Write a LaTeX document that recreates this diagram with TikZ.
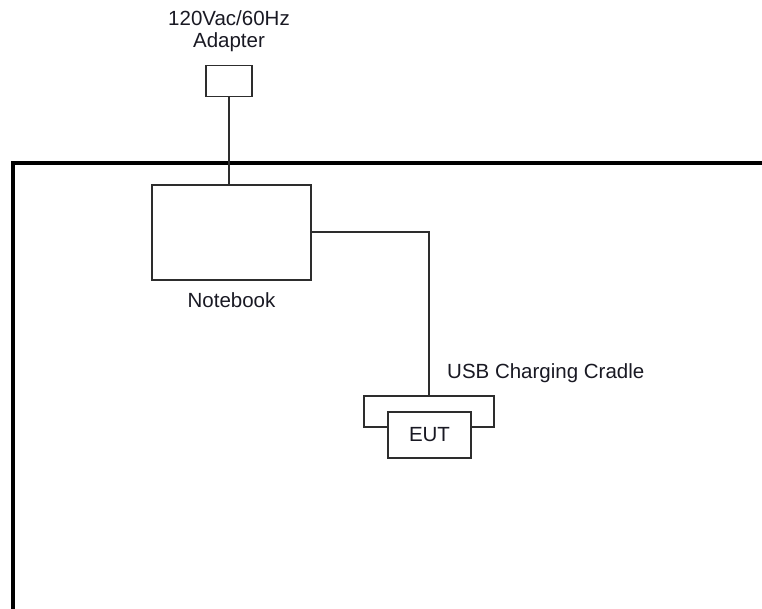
\documentclass[tikz,border=0pt]{standalone}
\usepackage{fontspec}
\setmainfont{Liberation Sans}
\usetikzlibrary{positioning}
\definecolor{Cline}{RGB}{45, 45, 45}
\definecolor{Ctext}{RGB}{25, 25, 35}
\tikzset{
    ebox/.style={
        rectangle, draw=Cline, line width=1.6pt, fill=white,
        inner sep=0pt, font=\fontsize{20.5}{22}\selectfont, text=Ctext
    },
    elabel/.style={
        font=\fontsize{20.5}{22}\selectfont, text=Ctext,
        inner sep=0pt, align=center
    },
    ewire/.style={line width=1.5pt, Cline},
    eframe/.style={line width=4.5pt, black},
}

\begin{document}
\begin{tikzpicture}[x=1pt, y=-1pt]
    \useasboundingbox (0,0) rectangle (762,608);

    % -- test table frame
    \coordinate (fbl) at (13,610);
    \coordinate (ftl) at (13,163);
    \coordinate (ftr) at (764,163);
    \draw [eframe] (fbl) -- (ftl) -- (ftr);

    % -- adapter
    \node [ebox, minimum width=46pt, minimum height=31pt]
        (adapter) at (229,81) {};
    \node [elabel, above=13pt of adapter]
        (adlabel) {120Vac/60Hz\\Adapter};

    % -- notebook
    \node [ebox, minimum width=159pt, minimum height=95pt]
        (notebook) at (231.5,232.5) {};
    \node [elabel, below=12pt of notebook]
        (nblabel) {Notebook};

    % -- charging cradle with the EUT in front
    \node [ebox, minimum width=130pt, minimum height=31pt]
        (cradle) at (429,411.5) {};
    \node [ebox, minimum width=83pt, minimum height=46pt]
        (eut) at (429.5,435) {EUT};
    \node [elabel, anchor=south west, above right=12pt and 18pt of cradle.north]
        (crlabel) {USB Charging Cradle};

    % -- cables
    \draw [ewire] (adapter.south) -- (adapter.south |- notebook.north);
    \draw [ewire] (notebook.east |- 0,232) -| (cradle.north);

\end{tikzpicture}
\end{document}
